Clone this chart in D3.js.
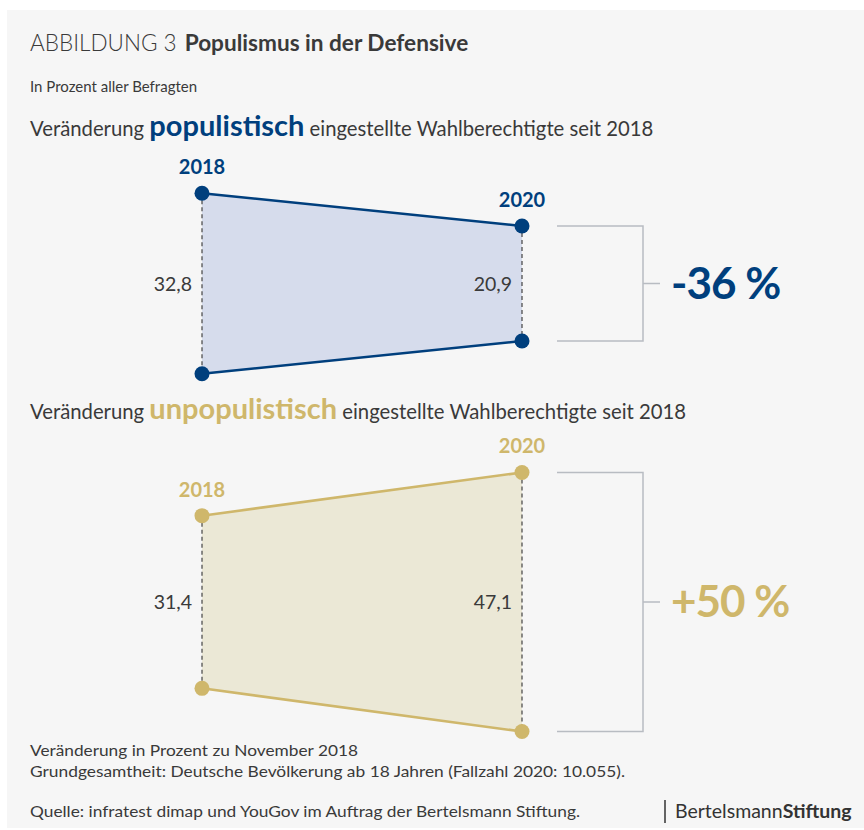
<!DOCTYPE html>
<html lang="de">
<head>
<meta charset="UTF-8">
<title>Populismus in der Defensive</title>
<script src="https://d3js.org/d3.v7.min.js"></script>
<style>
  body { margin: 0; background: #fff; }
  svg { display: block; font-family: Lato, "Open Sans", sans-serif; }
</style>
</head>
<body>
<div id="chart"></div>
<script>
// data
const years = ["2018", "2020"];
const populistisch = [32.8, 20.9];
const unpopulistisch = [31.4, 47.1];
const changes = ["-36 %", "+50 %"];
const valueLabels = [["32,8", "20,9"], ["31,4", "47,1"]];

const width = 864, height = 830;
const blue = "#003f7d", blueFill = "#d6dcec";
const gold = "#cfb76b", goldFill = "#ebe8d6";
const textCol = "#3a3a3a";

const svg = d3.select("#chart").append("svg")
  .attr("width", width).attr("height", height);

svg.append("rect").attr("x", 7).attr("y", 10)
  .attr("width", width - 7).attr("height", 818).attr("fill", "#f6f6f6");

// headings
const t = svg.append("text").attr("x", 30).attr("y", 51).attr("font-size", 22.5).attr("fill", textCol);
t.append("tspan").attr("font-weight", 300).text("ABBILDUNG 3 ");
t.append("tspan").attr("font-weight", 700).attr("dx", 2).attr("font-size", 22.6).text("Populismus in der Defensive");

svg.append("text").attr("x", 30).attr("y", 92).attr("font-size", 15)
  .attr("fill", textCol).text("In Prozent aller Befragten");

function subtitle(y, word, col) {
  const s = svg.append("text").attr("x", 30).attr("y", y).attr("font-size", 20.3).attr("fill", textCol);
  s.append("tspan").text("Veränderung ");
  s.append("tspan").attr("font-size", 29).attr("font-weight", 700).attr("fill", col).text(word);
  s.append("tspan").text(" eingestellte Wahlberechtigte seit 2018");
}
subtitle(136, "populistisch", blue);
subtitle(419, "unpopulistisch", gold);

// scales
const x = d3.scalePoint().domain(years).range([202, 522]);
const k = d3.scaleLinear().domain([0, 10]).range([0, 55]);

function panel(values, labels, centerY, col, fill, change) {
  const g = svg.append("g");
  const pts = values.map((v, i) => ({ year: years[i], top: centerY - k(v) / 2, bottom: centerY + k(v) / 2 }));

  const area = d3.area().x(d => x(d.year)).y0(d => d.bottom).y1(d => d.top);
  g.append("path").datum(pts).attr("d", area).attr("fill", fill);

  g.selectAll(".dash").data(pts).join("line")
    .attr("x1", d => x(d.year)).attr("x2", d => x(d.year))
    .attr("y1", d => d.top).attr("y2", d => d.bottom)
    .attr("stroke", "#444").attr("stroke-width", 1.2).attr("stroke-dasharray", "4,3");

  ["top", "bottom"].forEach(key => {
    g.append("path").datum(pts)
      .attr("d", d3.line().x(d => x(d.year)).y(d => d[key]))
      .attr("fill", "none").attr("stroke", col).attr("stroke-width", 2.5);
  });

  pts.forEach(d => {
    g.append("circle").attr("cx", x(d.year)).attr("cy", d.top).attr("r", 7.5).attr("fill", col);
    g.append("circle").attr("cx", x(d.year)).attr("cy", d.bottom).attr("r", 7.5).attr("fill", col);
  });

  g.selectAll(".yr").data(pts).join("text")
    .attr("x", d => x(d.year)).attr("y", d => d.top - 19)
    .attr("text-anchor", "middle").attr("font-size", 20).attr("font-weight", 700)
    .attr("fill", col).text(d => d.year);

  g.selectAll(".val").data(pts).join("text")
    .attr("x", d => x(d.year) - 10).attr("y", centerY + 7)
    .attr("text-anchor", "end").attr("font-size", 19.5).attr("fill", textCol)
    .text((d, i) => labels[i]);

  // bracket
  const last = pts[pts.length - 1];
  g.append("path")
    .attr("d", `M557,${last.top}H643V${last.bottom}H557M643,${centerY}H660`)
    .attr("fill", "none").attr("stroke", "#b8bcc2").attr("stroke-width", 1.5);

  g.append("text").attr("x", 671).attr("y", centerY + 15)
    .attr("font-size", 44).attr("font-weight", 700).attr("fill", col)
    .attr("letter-spacing", -1).text(change);
}

panel(populistisch, valueLabels[0], 283.5, blue, blueFill, changes[0]);
panel(unpopulistisch, valueLabels[1], 602, gold, goldFill, changes[1]);

// footnotes
svg.append("text").attr("x", 30).attr("y", 756).attr("font-size", 16).attr("fill", textCol)
  .attr("textLength", 328).attr("lengthAdjust", "spacingAndGlyphs")
  .text("Veränderung in Prozent zu November 2018");
svg.append("text").attr("x", 30).attr("y", 777).attr("font-size", 16).attr("fill", textCol)
  .attr("textLength", 595).attr("lengthAdjust", "spacingAndGlyphs")
  .text("Grundgesamtheit: Deutsche Bevölkerung ab 18 Jahren (Fallzahl 2020: 10.055).");
svg.append("text").attr("x", 30).attr("y", 817).attr("font-size", 16).attr("fill", textCol)
  .attr("textLength", 550).attr("lengthAdjust", "spacingAndGlyphs")
  .text("Quelle: infratest dimap und YouGov im Auftrag der Bertelsmann Stiftung.");

svg.append("line").attr("x1", 665).attr("x2", 665).attr("y1", 800).attr("y2", 823)
  .attr("stroke", "#333").attr("stroke-width", 1.5);
const b = svg.append("text").attr("x", 675).attr("y", 818).attr("font-size", 19.5).attr("fill", "#333");
b.append("tspan").text("Bertelsmann");
b.append("tspan").attr("font-weight", 700).text("Stiftung");
</script>
</body>
</html>
